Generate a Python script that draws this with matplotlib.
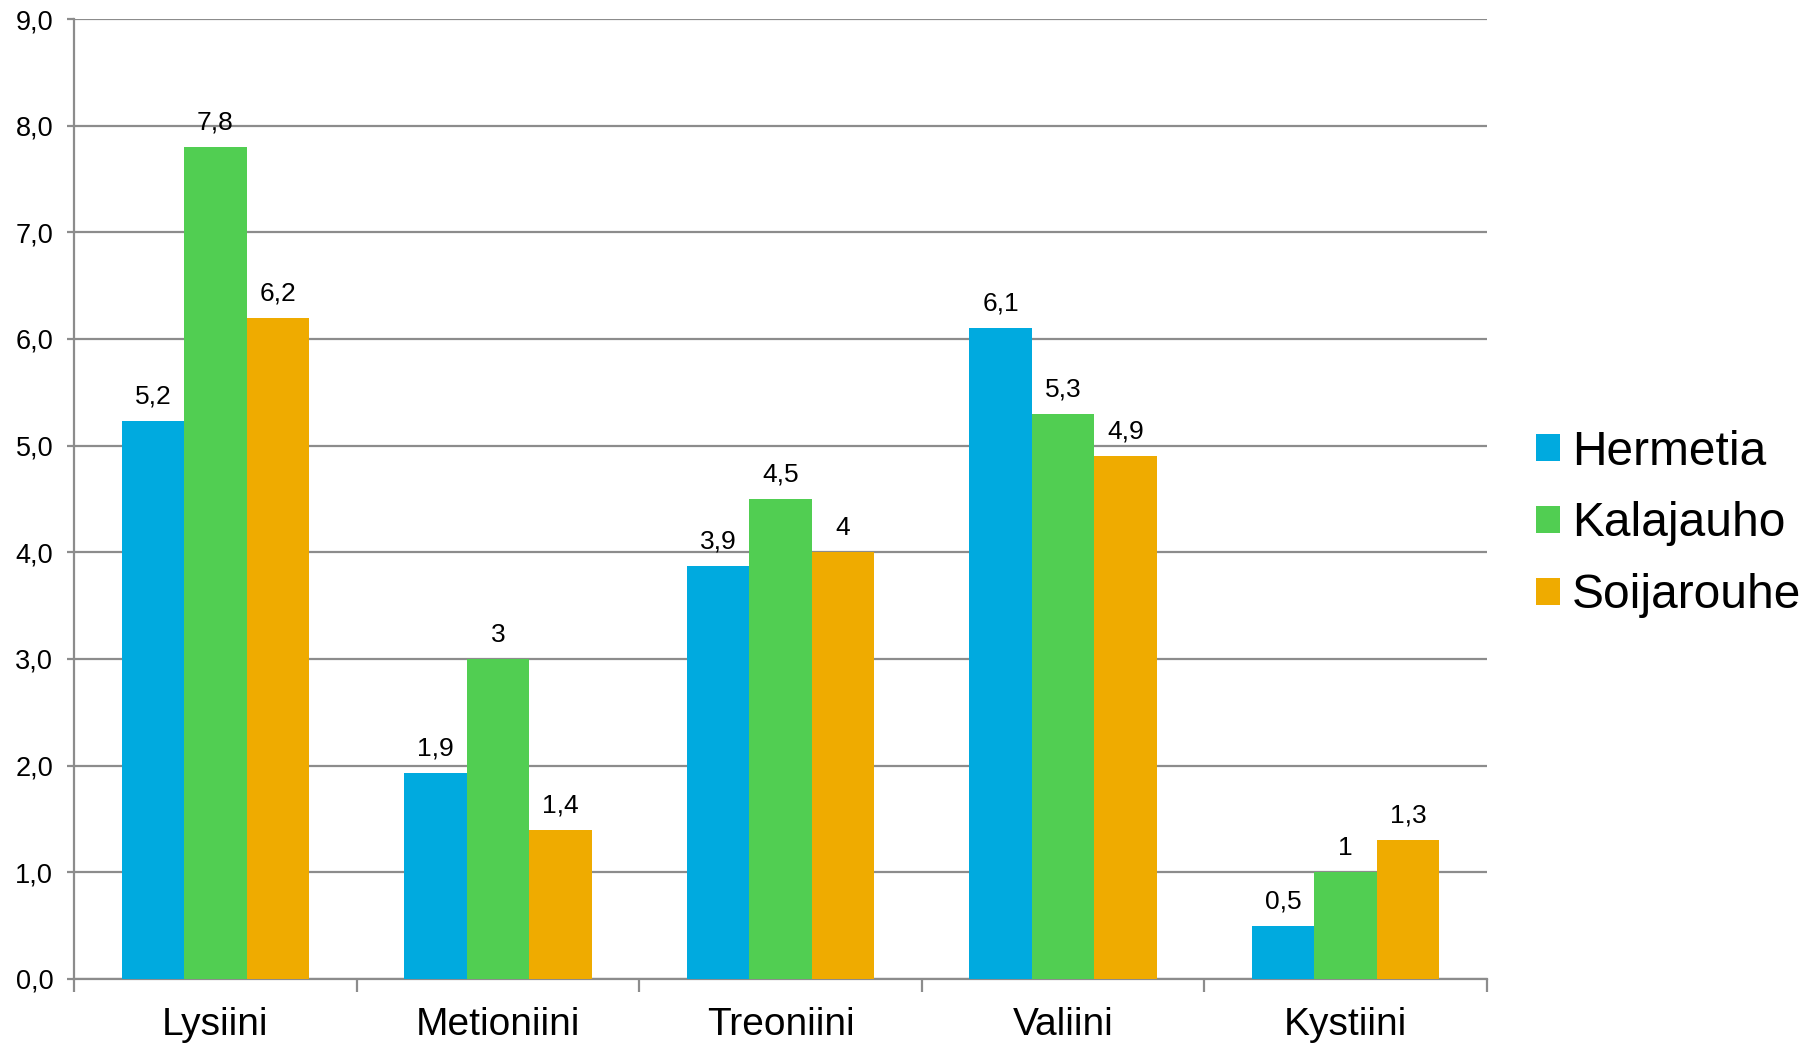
import matplotlib
matplotlib.use("Agg")
import matplotlib.pyplot as plt
import numpy as np
from matplotlib.patches import Patch

categories = ["Lysiini", "Metioniini", "Treoniini", "Valiini", "Kystiini"]
series_names = ["Hermetia", "Kalajauho", "Soijarouhe"]
hermetia = [5.23, 1.93, 3.87, 6.1, 0.5]
kalajauho = [7.8, 3.0, 4.5, 5.3, 1.0]
soijarouhe = [6.2, 1.4, 4.0, 4.9, 1.3]
hermetia_labels = ["5,2", "1,9", "3,9", "6,1", "0,5"]
kalajauho_labels = ["7,8", "3", "4,5", "5,3", "1"]
soijarouhe_labels = ["6,2", "1,4", "4", "4,9", "1,3"]
y_ticks = [0, 1, 2, 3, 4, 5, 6, 7, 8, 9]
y_tick_labels = ["0,0", "1,0", "2,0", "3,0", "4,0", "5,0", "6,0", "7,0", "8,0", "9,0"]

colors = ["#00AADF", "#51CE52", "#EFAB00"]
grid_col = "#8C8C8C"

plt.rcParams['font.family'] = ['Liberation Sans', 'DejaVu Sans']

fig = plt.figure(figsize=(18.17, 10.43), dpi=100)
ax = fig.add_axes([74/1817, 1-979/1043, (1487-74)/1817, (979-19)/1043])

x = np.arange(len(categories))
w = 0.221
all_vals = [hermetia, kalajauho, soijarouhe]
all_labels = [hermetia_labels, kalajauho_labels, soijarouhe_labels]
for i, (vals, labs) in enumerate(zip(all_vals, all_labels)):
    pos = x + (i - 1) * w
    ax.bar(pos, vals, width=w, color=colors[i], zorder=3, edgecolor='none')
    for xp, v, t in zip(pos, vals, labs):
        ax.annotate(t, (xp, v), xytext=(0, 9), textcoords='offset points',
                    ha='center', va='bottom', fontsize=19, color='black')

ax.set_xlim(-0.5, len(categories) - 0.5)
ax.set_ylim(0, 9)
ax.set_yticks(y_ticks)
ax.set_yticklabels(y_tick_labels, fontsize=19.5)
ax.yaxis.grid(True, color=grid_col, linewidth=1.6, zorder=0)
ax.set_axisbelow(True)

ax.set_xticks(x)
ax.set_xticklabels(categories, fontsize=28)
ax.tick_params(axis='x', which='major', length=0, pad=20)
ax.set_xticks(np.arange(-0.5, len(categories), 1.0), minor=True)
ax.tick_params(axis='x', which='minor', length=9, width=1.6, color=grid_col, direction='out')
ax.tick_params(axis='y', length=5, width=1.6, color=grid_col, direction='out', pad=10)

for s in ['top', 'right']:
    ax.spines[s].set_visible(False)
for s in ['left', 'bottom']:
    ax.spines[s].set_color(grid_col)
    ax.spines[s].set_linewidth(1.6)

handles = [Patch(facecolor=c, edgecolor='none') for c in colors]
fig.legend(handles, series_names, loc='center left', bbox_to_anchor=(1536/1817, 1-524/1043),
           frameon=False, fontsize=34.5, handlelength=0.5, handleheight=0.5,
           handletextpad=0.25, labelspacing=0.56, borderaxespad=0, borderpad=0)

fig.savefig("out.png", dpi=100)
